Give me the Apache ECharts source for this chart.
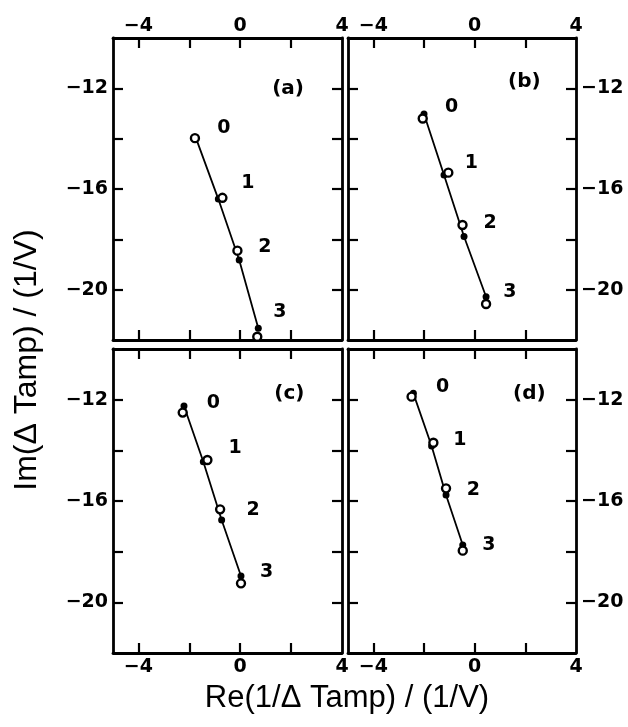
<!DOCTYPE html>
<html>
<head>
<meta charset="utf-8">
<script src="https://cdn.jsdelivr.net/npm/echarts@6/dist/echarts.min.js"></script>
<style>
html,body{margin:0;padding:0;background:#fff;}
#chart{width:628px;height:727px;}
</style>
</head>
<body>
<div id="chart"></div>
<script>
// ---- data ----
const panelNames = ['(a)', '(b)', '(c)', '(d)'];
const pointLabels = ['0', '1', '2', '3'];

// open circles (measured)
const openA_x = [-1.78, -0.70, -0.11, 0.67];
const openA_y = [-13.98, -16.35, -18.45, -21.87];
const openB_x = [-2.05, -1.04, -0.48, 0.45];
const openB_y = [-13.20, -15.35, -17.43, -20.57];
const openC_x = [-2.26, -1.29, -0.79, 0.03];
const openC_y = [-12.51, -14.38, -16.33, -19.25];
const openD_x = [-2.49, -1.63, -1.13, -0.47];
const openD_y = [-11.88, -13.70, -15.50, -17.96];

// filled dots (joined by the line)
const fillA_x = [-1.75, -0.86, -0.04, 0.71];
const fillA_y = [-13.95, -16.40, -18.82, -21.53];
const fillB_x = [-2.00, -1.21, -0.42, 0.45];
const fillB_y = [-13.02, -15.44, -17.89, -20.28];
const fillC_x = [-2.21, -1.45, -0.73, 0.03];
const fillC_y = [-12.25, -14.45, -16.75, -18.96];
const fillD_x = [-2.42, -1.70, -1.13, -0.47];
const fillD_y = [-11.75, -13.83, -15.76, -17.74];

// annotation anchor positions (data units)
const labA_x = [-0.64, 0.30, 0.97, 1.56];
const labA_y = [-13.58, -15.76, -18.30, -20.90];
const labB_x = [-0.91, -0.13, 0.61, 1.39];
const labB_y = [-12.73, -14.98, -17.36, -20.08];
const labC_x = [-1.06, -0.20, 0.51, 1.04];
const labC_y = [-12.14, -13.92, -16.36, -18.79];
const labD_x = [-1.27, -0.58, -0.05, 0.56];
const labD_y = [-11.49, -13.59, -15.57, -17.74];
const tag_x = [1.88, 1.96, 1.93, 2.16];
const tag_y = [-12.00, -11.74, -11.76, -11.76];

// axes
const xMin = -5, xMax = 4;
const yMin = -22, yMax = -10;
const xTicks = [-4, -2, 0, 2];
const xTickLabels = [-4, 0, 4];
const yTicks = [-20, -18, -16, -14, -12];
const yTickLabels = [-20, -16, -12];

// ---- build chart ----
const FONT = '"Liberation Sans", Arial, Helvetica, sans-serif';
const BFONT = '"DejaVu Sans", "Liberation Sans", sans-serif';
const pair = (xs, ys) => xs.map((x, i) => [x, ys[i]]);
const openSets = [pair(openA_x, openA_y), pair(openB_x, openB_y), pair(openC_x, openC_y), pair(openD_x, openD_y)];
const fillSets = [pair(fillA_x, fillA_y), pair(fillB_x, fillB_y), pair(fillC_x, fillC_y), pair(fillD_x, fillD_y)];
const labSets = [pair(labA_x, labA_y), pair(labB_x, labB_y), pair(labC_x, labC_y), pair(labD_x, labD_y)];

const grids = [
  {left: 113, top: 38, width: 229, height: 302},
  {left: 348, top: 38, width: 228, height: 302},
  {left: 113, top: 349, width: 229, height: 304},
  {left: 348, top: 349, width: 228, height: 304}
];
// which sides show labels: [top, bottom, left, right]
const labelSides = [
  [true, false, true, false],
  [true, false, false, true],
  [false, true, true, false],
  [false, true, false, true]
];

const fmt = v => String(v).replace('-', '\u2212');
const lineStyle = {color: '#000', width: 2.8};
const tickStyle = {color: '#000', width: 2.2};
const labelStyle = {color: '#000', fontFamily: BFONT, fontWeight: 'bold', fontSize: 19};

const xAxis = [], yAxis = [], series = [];
grids.forEach((g, i) => {
  const s = labelSides[i];
  ['top', 'bottom'].forEach((pos, k) => {
    xAxis.push({
      gridIndex: i, type: 'value', position: pos, min: xMin, max: xMax,
      axisLine: {show: true, onZero: false, lineStyle: lineStyle},
      axisTick: {show: true, inside: true, length: 10, customValues: xTicks, lineStyle: tickStyle},
      axisLabel: Object.assign({show: s[k], margin: pos === 'top' ? 2 : 5, customValues: xTickLabels, formatter: fmt}, labelStyle),
      splitLine: {show: false}
    });
  });
  ['left', 'right'].forEach((pos, k) => {
    yAxis.push({
      gridIndex: i, type: 'value', position: pos, min: yMin, max: yMax,
      axisLine: {show: true, onZero: false, lineStyle: lineStyle},
      axisTick: {show: true, inside: true, length: 10, customValues: yTicks, lineStyle: tickStyle},
      axisLabel: Object.assign({show: s[2 + k], margin: 5, customValues: yTickLabels, formatter: fmt}, labelStyle),
      splitLine: {show: false}
    });
  });
  const xi = 2 * i, yi = 2 * i;
  series.push({
    type: 'line', xAxisIndex: xi, yAxisIndex: yi, data: fillSets[i],
    symbol: 'circle', symbolSize: 7, showSymbol: true,
    itemStyle: {color: '#000', opacity: 1}, lineStyle: {color: '#000', width: 1.8},
    z: 2, animation: false
  });
  series.push({
    type: 'scatter', xAxisIndex: xi, yAxisIndex: yi, data: openSets[i],
    symbol: 'circle', symbolSize: 8,
    itemStyle: {color: '#fff', borderColor: '#000', borderWidth: 2.4, opacity: 1},
    z: 3, animation: false
  });
  series.push({
    type: 'scatter', xAxisIndex: xi, yAxisIndex: yi,
    data: labSets[i].map((p, j) => ({value: p, name: pointLabels[j]})),
    symbolSize: 0, itemStyle: {opacity: 1},
    label: {show: true, position: 'inside', formatter: '{b}', color: '#000', opacity: 1,
            textBorderWidth: 0, fontFamily: BFONT, fontWeight: 'bold', fontSize: 19},
    z: 4, animation: false, silent: true
  });
  series.push({
    type: 'scatter', xAxisIndex: xi, yAxisIndex: yi,
    data: [{value: [tag_x[i], tag_y[i]], name: panelNames[i]}],
    symbolSize: 0, itemStyle: {opacity: 1},
    label: {show: true, position: 'inside', formatter: '{b}', color: '#000', opacity: 1,
            textBorderWidth: 0, fontFamily: BFONT, fontWeight: 'bold', fontSize: 20},
    z: 4, animation: false, silent: true
  });
});

const chart = echarts.init(document.getElementById('chart'), null, {renderer: 'canvas'});
chart.setOption({
  backgroundColor: '#fff',
  animation: false,
  grid: grids,
  xAxis: xAxis,
  yAxis: yAxis,
  series: series,
  graphic: [
    {type: 'text', x: 347, y: 698,
     style: {text: 'Re(1/\u0394 Tamp) / (1/V)', font: 'normal 31px ' + FONT, fill: '#000',
             textAlign: 'center', textVerticalAlign: 'middle'}},
    {type: 'text', x: 27, y: 360, rotation: Math.PI / 2,
     style: {text: 'Im(\u0394 Tamp) / (1/V)', font: 'normal 32px ' + FONT, fill: '#000',
             textAlign: 'center', textVerticalAlign: 'middle'}}
  ]
});
</script>
</body>
</html>
